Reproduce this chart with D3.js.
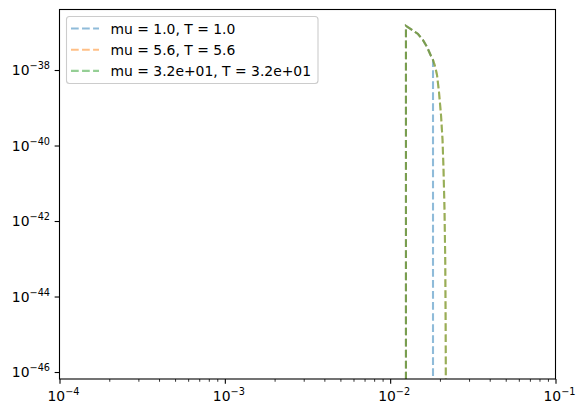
<!DOCTYPE html>
<html>
<head>
<meta charset="utf-8">
<script src="https://cdn.jsdelivr.net/npm/d3@7/dist/d3.min.js"></script>
<style>
  html, body { margin: 0; padding: 0; background: #fff; }
  svg { display: block; font-family: "DejaVu Sans", sans-serif; }
</style>
</head>
<body>
<svg id="chart" width="581" height="415"></svg>
<script>
// ---- data ----
const seriesLabels = ["mu = 1.0, T = 1.0", "mu = 5.6, T = 5.6", "mu = 3.2e+01, T = 3.2e+01"];
const seriesColors = ["#1f77b4", "#ff7f0e", "#2ca02c"];

const xMu1 = [0.01246, 0.01246, 0.01355, 0.01474, 0.0158, 0.0167, 0.01766, 0.01816, 0.01816];
const yMu1 = [1e-50, 1.47e-37, 1.15e-37, 9.0e-38, 6.2e-38, 4.1e-38, 2.35e-38, 1.84e-38, 1e-50];

const xMu56 = [0.01246, 0.01246, 0.01355, 0.01474, 0.0158, 0.0167, 0.01766, 0.01816, 0.01867, 0.0192, 0.01974, 0.0203, 0.02074, 0.02103, 0.02132, 0.02153, 0.02165, 0.0217, 0.0217];
const yMu56 = [1e-50, 1.47e-37, 1.15e-37, 9.0e-38, 6.2e-38, 4.1e-38, 2.35e-38, 1.84e-38, 1.28e-38, 7.4e-39, 2.6e-39, 6.4e-40, 1.4e-40, 2.2e-41, 1.9e-42, 9.3e-44, 2.4e-45, 1.8e-46, 1e-50];

const xMu32 = [0.01246, 0.01246, 0.01355, 0.01474, 0.0158, 0.0167, 0.01766, 0.01816, 0.01867, 0.0192, 0.01974, 0.0203, 0.02074, 0.02103, 0.02132, 0.02153, 0.02165, 0.0217, 0.0217];
const yMu32 = [1e-50, 1.47e-37, 1.15e-37, 9.0e-38, 6.2e-38, 4.1e-38, 2.35e-38, 1.84e-38, 1.28e-38, 7.4e-39, 2.6e-39, 6.4e-40, 1.4e-40, 2.2e-41, 1.9e-42, 9.3e-44, 2.4e-45, 1.8e-46, 1e-50];

const xTickExps = [-4, -3, -2, -1];
const yTickExps = [-38, -40, -42, -44, -46];
const xDomain = [1e-4, 1e-1];
const yDomain = [Math.pow(10, -46.185), Math.pow(10, -36.397)];

// ---- layout ----
const L = 59.5, R = 555.5, T = 9.5, B = 379;
const svg = d3.select("#chart");
const x = d3.scaleLog().domain(xDomain).range([L, R]);
const y = d3.scaleLog().domain(yDomain).range([B, T]);

const series = [
  { xs: xMu1, ys: yMu1 },
  { xs: xMu56, ys: yMu56 },
  { xs: xMu32, ys: yMu32 }
];

svg.append("clipPath").attr("id", "clip")
  .append("rect").attr("x", L).attr("y", T).attr("width", R - L).attr("height", B - T);

const line = d3.line().x(d => x(d[0])).y(d => y(d[1]));
const g = svg.append("g").attr("clip-path", "url(#clip)");
series.forEach((s, i) => {
  const pts = s.xs.map((v, k) => [v, s.ys[k]]);
  g.append("path")
    .attr("d", line(pts))
    .attr("fill", "none")
    .attr("stroke", seriesColors[i])
    .attr("stroke-opacity", 0.5)
    .attr("stroke-width", 2.08)
    .attr("stroke-dasharray", "7.71,3.33");
});

// ---- axes ----
const fs = 13.9;
function sup(sel, e) {
  sel.append("tspan").text("10");
  sel.append("tspan").attr("dy", -6).attr("font-size", fs * 0.7).text("\u2212" + Math.abs(e));
}

// x axis
const xMinor = [];
for (let e = -4; e < -1; e++) for (let k = 2; k <= 9; k++) xMinor.push(k * Math.pow(10, e));
const xa = svg.append("g").attr("transform", `translate(0,${B})`)
  .call(d3.axisBottom(x).tickValues(xMinor).tickSize(2.78).tickFormat(""));
xa.select(".domain").remove();
xa.selectAll("line").attr("stroke", "#000").attr("stroke-width", 0.8);
const xb = svg.append("g").attr("transform", `translate(0,${B})`)
  .call(d3.axisBottom(x).tickValues(xTickExps.map(e => Math.pow(10, e))).tickSize(4.86).tickFormat(""));
xb.select(".domain").remove();
xb.selectAll("line").attr("stroke", "#000").attr("stroke-width", 1.1);
xTickExps.forEach(e => {
  const t = svg.append("text")
    .attr("x", x(Math.pow(10, e)) + 4)
    .attr("y", 401)
    .attr("text-anchor", "middle")
    .attr("font-size", fs)
    .attr("fill", "#000");
  sup(t, e);
});

// y axis
const ya = svg.append("g").attr("transform", `translate(${L},0)`)
  .call(d3.axisLeft(y).tickValues(yTickExps.map(e => Math.pow(10, e))).tickSize(4.86).tickFormat(""));
ya.select(".domain").remove();
ya.selectAll("line").attr("stroke", "#000").attr("stroke-width", 1.1);
yTickExps.forEach(e => {
  const t = svg.append("text")
    .attr("x", 50)
    .attr("y", y(Math.pow(10, e)) + 5)
    .attr("text-anchor", "end")
    .attr("font-size", fs)
    .attr("fill", "#000");
  sup(t, e);
});

// spines
svg.append("rect").attr("x", L).attr("y", T).attr("width", R - L).attr("height", B - T)
  .attr("fill", "none").attr("stroke", "#000").attr("stroke-width", 1.1);

// ---- legend ----
const lg = svg.append("g");
lg.append("rect").attr("x", 66.5).attr("y", 16.5).attr("width", 251.5).attr("height", 67)
  .attr("rx", 3).attr("ry", 3)
  .attr("fill", "#fff").attr("fill-opacity", 0.8)
  .attr("stroke", "#cccccc").attr("stroke-width", 1.1);
seriesLabels.forEach((lab, i) => {
  const cy = 28.5 + i * 21.2;
  lg.append("line").attr("x1", 71).attr("x2", 99).attr("y1", cy).attr("y2", cy)
    .attr("stroke", seriesColors[i]).attr("stroke-opacity", 0.5)
    .attr("stroke-width", 2.08).attr("stroke-dasharray", "7.71,3.33");
  lg.append("text").attr("x", 110.5).attr("y", cy + 5)
    .attr("font-size", fs).attr("fill", "#000").text(lab);
});
</script>
</body>
</html>
